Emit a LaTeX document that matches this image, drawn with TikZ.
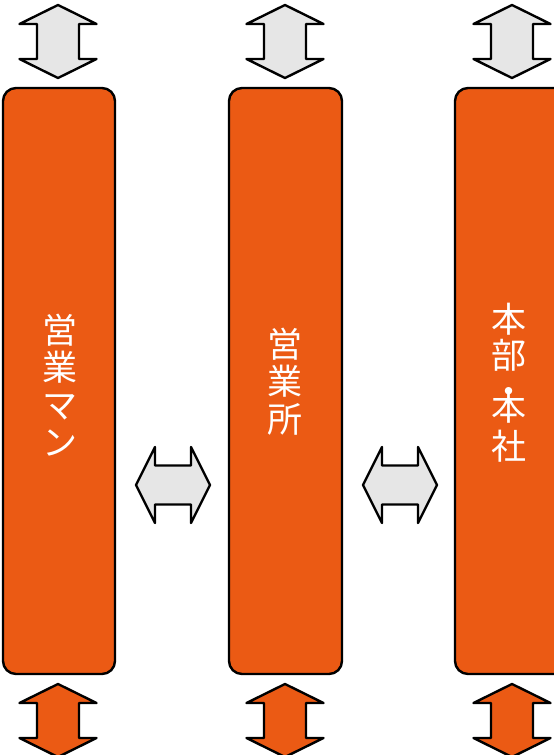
\documentclass[tikz,border=0pt]{standalone}
\usepackage{fontspec}
\newfontfamily\jpfont{Noto Sans CJK JP}
\definecolor{colorange}{RGB}{235,90,20}
\definecolor{arrgray}{RGB}{230,230,230}
\newcommand\vdarr[4]{%
  \draw[blockarr,fill=#4] (#1,#2) -- (#1+38.5,#2+19) -- (#1+21,#2+19) -- (#1+21,#3-19) -- (#1+38.5,#3-19) -- (#1,#3) -- (#1-38.5,#3-19) -- (#1-21,#3-19) -- (#1-21,#2+19) -- (#1-38.5,#2+19) -- cycle;}
\newcommand\hdarr[4]{%
  \draw[blockarr,fill=#4] (#2,#1) -- (#2+19,#1-38) -- (#2+19,#1-19.5) -- (#3-19,#1-19.5) -- (#3-19,#1-38) -- (#3,#1) -- (#3-19,#1+38) -- (#3-19,#1+19.5) -- (#2+19,#1+19.5) -- (#2+19,#1+38) -- cycle;}
\tikzset{
  blockarr/.style={draw=black, line width=2.4pt, line join=round},
  colbox/.style={draw=black, fill=colorange, line width=2.4pt, rounded corners=13pt,
    inner sep=0pt, outer sep=0pt, minimum height=586pt},
  coltext/.style={text=white, align=center, inner sep=0pt, font=\jpfont\fontsize{35}{37.5}\selectfont}
}
\begin{document}
\begin{tikzpicture}[x=1pt,y=-1pt]
\useasboundingbox (0,0) rectangle (554,755);
\clip (0,0) rectangle (554,755);
% columns
\node[colbox, minimum width=112pt] (col1) at (59,381) {};
\node[colbox, minimum width=113pt] (col2) at (285.5,381) {};
\node[colbox, minimum width=113pt] (col3) at (511.5,381) {};
% labels
\node[coltext] (t1) at (60,385) {営\\業\\マ\\ン};
\node[coltext] (t2) at (285,381.5) {営\\業\\所};
\node[coltext] (t3) at (509,382.5) {本\\[-1.5pt]部\\[-1pt]・\\[-21.5pt]本\\[1pt]社};
% top arrows
\vdarr{58}{5}{78}{arrgray}
\vdarr{285}{5}{78}{arrgray}
\vdarr{512}{5}{78}{arrgray}
% bottom arrows
\vdarr{58}{684}{757}{colorange}
\vdarr{285}{684}{757}{colorange}
\vdarr{512}{684}{757}{colorange}
% middle arrows
\hdarr{485}{136}{210}{arrgray}
\hdarr{485}{363}{437}{arrgray}
\end{tikzpicture}
\end{document}
